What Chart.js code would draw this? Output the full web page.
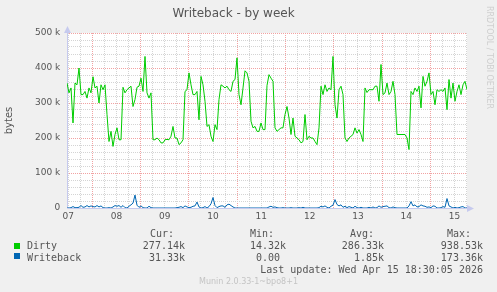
<!DOCTYPE html>
<html>
<head>
<meta charset="utf-8">
<title>Writeback - by week</title>
<script src="https://cdn.jsdelivr.net/npm/chart.js@4/dist/chart.umd.min.js"></script>
<style>
  html, body { margin: 0; padding: 0; background: #f0f0f0; }
  #wrap { position: relative; width: 497px; height: 292px; overflow: hidden; background: #f0f0f0; }
  #c { position: absolute; left: 0; top: 0; }
  .m { position: absolute; font: 10px "DejaVu Sans Mono", monospace; line-height: 10px; color: #555; white-space: pre; }
  .r { text-align: right; }
  .sq { position: absolute; width: 6px; height: 6px; left: 14px; }
  #ver { position: absolute; left: 0; width: 497px; top: 277.5px; text-align: center; font: 8px "DejaVu Sans", sans-serif; line-height: 8px; color: #c4c4c4; }
  #rrd { position: absolute; left: 493px; top: 6px; transform-origin: 0 0; transform: rotate(90deg); font: 8px "DejaVu Sans", sans-serif; line-height: 8px; color: #cfcfcf; white-space: pre; }
</style>
</head>
<body>
<div id="wrap">
  <canvas id="c" width="497" height="292"></canvas>
  <div id="rrd">RRDTOOL / TOBI OETIKER</div>

  <div class="m" style="left:150px;top:229px">Cur:</div>
  <div class="m" style="left:250px;top:229px">Min:</div>
  <div class="m" style="left:350px;top:229px">Avg:</div>
  <div class="m" style="left:447px;top:229px">Max:</div>

  <div class="sq" style="top:243px;background:#00cc00"></div>
  <div class="m" style="left:27px;top:241px">Dirty</div>
  <div class="m r" style="right:312px;top:241px">277.14k</div>
  <div class="m" style="left:250px;top:241px">14.32k</div>
  <div class="m r" style="right:113px;top:241px">286.33k</div>
  <div class="m r" style="right:14px;top:241px">938.53k</div>

  <div class="sq" style="top:253px;background:#0066b3"></div>
  <div class="m" style="left:27px;top:252.5px">Writeback</div>
  <div class="m r" style="right:312px;top:252.5px">31.33k</div>
  <div class="m" style="left:256px;top:252.5px">0.00</div>
  <div class="m r" style="right:113px;top:252.5px">1.85k</div>
  <div class="m r" style="right:14px;top:252.5px">173.36k</div>

  <div class="m r" style="right:14px;top:264.5px">Last update: Wed Apr 15 18:30:05 2026</div>
  <div id="ver">Munin 2.0.33-1~bpo8+1</div>
</div>
<script>
// hours counted from midnight of Apr 07; one sample every ~1 h (2 px)
const startHour = 11.43;
const stepHour = 0.9938;
const dayLabels = ["07", "08", "09", "10", "11", "12", "13", "14", "15"];

// values in k (1000 bytes)
const dirtyK = [
  357, 329, 343, 243, 357, 352, 400, 324, 324, 333, 314, 343, 329, 375, 343, 348, 300,
  352, 338, 352, 267, 190, 219, 176, 210, 229, 195, 195, 345, 329, 338, 343, 348, 290,
  310, 345, 348, 371, 333, 433, 329, 314, 329, 195, 195, 200, 195, 186, 186, 195, 196,
  195, 205, 233, 200, 200, 181, 186, 195, 333, 338, 386, 352, 324, 324, 333, 252, 376,
  352, 305, 233, 238, 205, 190, 238, 224, 310, 352, 348, 343, 348, 338, 333, 362, 367,
  429, 324, 295, 343, 392, 386, 362, 248, 229, 233, 219, 219, 243, 224, 224, 350,
  381, 371, 362, 229, 219, 224, 229, 229, 267, 290, 257, 210, 257, 205, 200, 195, 186,
  190, 267, 195, 205, 200, 200, 190, 181, 229, 348, 324, 352, 333, 343, 338, 433, 295,
  257, 338, 348, 324, 200, 190, 200, 205, 210, 229, 214, 224, 210, 190, 343, 330,
  338, 338, 338, 348, 348, 305, 410, 324, 329, 357, 324, 333, 362, 324, 210, 210, 210,
  210, 210, 200, 167, 333, 324, 343, 333, 348, 286, 376, 348, 362, 386, 324, 333, 295,
  338, 333, 338, 333, 343, 281, 367, 314, 357, 305, 333, 352, 324, 352, 362, 338,
];

const writebackK = [
  0, 0, 1, 4, 1, 1, 2, 7, 2, 3, 7, 3, 6, 4, 3, 7, 3, 6, 1, 0,
  0, 1, 0, 3, 7, 5, 7, 2, 7, 1, 0, 5, 9, 14, 37, 8, 2, 6, 1, 0,
  0, 5, 1, 0, 0, 0, 0, 0, 0, 0, 0, 0, 0, 0, 0, 1, 2, 4, 1, 6,
  3, 1, 2, 5, 6, 17, 3, 0, 1, 4, 0, 4, 12, 30, 7, 1, 4, 6, 6, 2,
  9, 11, 7, 3, 0, 0, 0, 0, 0, 0, 0, 0, 0, 0, 0, 0, 0, 0, 0, 0,
  0, 3, 5, 2, 3, 1, 0, 0, 1, 0, 0, 0, 1, 0, 0, 0, 1, 0, 2, 0,
  0, 0, 0, 0, 0, 0, 1, 5, 3, 6, 2, 0, 5, 8, 24, 10, 6, 9, 2, 5,
  1, 4, 2, 0, 5, 1, 0, 2, 0, 0, 0, 2, 0, 3, 0, 1, 6, 2, 4, 5,
  6, 1, 0, 3, 1, 0, 0, 0, 0, 0, 0, 6, 18, 6, 9, 3, 4, 9, 6, 5,
  2, 3, 1, 6, 5, 0, 0, 1, 4, 2, 27, 6, 3, 0, 2, 0, 1, 3, 4, 0,
  0,
];

const yMax = 500000;
const yStep = 20000;
const yLabelStep = 100000;

const textColor = "#555555";
const minorGrid = "#d4d4d4";
const majorGrid = "#f2a2a2";
const axisColor = "#c6caee";

const toPoints = (vals) =>
  vals.map((v, i) => ({ x: startHour + i * stepHour, y: v * 1000 }));

const xMin = startHour;
const xMax = startHour + (dirtyK.length - 1) * stepHour;

const plotFrame = {
  id: "plotFrame",
  beforeDraw(chart) {
    const { ctx, chartArea: a } = chart;
    ctx.save();
    ctx.fillStyle = "#ffffff";
    ctx.fillRect(a.left, a.top, a.right - a.left, a.bottom - a.top);
    ctx.restore();
  },
  beforeDatasetsDraw(chart) {
    const { ctx, chartArea: a } = chart;
    const x0 = a.left + 0.5;
    const y0 = a.bottom + 0.5;
    ctx.save();
    ctx.strokeStyle = axisColor;
    ctx.fillStyle = axisColor;
    ctx.lineWidth = 1;
    ctx.beginPath();
    ctx.moveTo(x0, y0);
    ctx.lineTo(x0, a.top - 1);
    ctx.moveTo(x0, y0);
    ctx.lineTo(a.right + 1, y0);
    ctx.stroke();
    // arrow heads
    ctx.beginPath();
    ctx.moveTo(x0, a.top - 7);
    ctx.lineTo(x0 - 3.5, a.top);
    ctx.lineTo(x0 + 3.5, a.top);
    ctx.closePath();
    ctx.fill();
    ctx.beginPath();
    ctx.moveTo(a.right + 7, y0);
    ctx.lineTo(a.right, y0 - 3.5);
    ctx.lineTo(a.right, y0 + 3.5);
    ctx.closePath();
    ctx.fill();
    ctx.restore();
  },
};

new Chart(document.getElementById("c"), {
  type: "line",
  data: {
    datasets: [
      {
        label: "Writeback",
        data: toPoints(writebackK),
        borderColor: "#0066b3",
        borderWidth: 1,
        pointRadius: 0,
        tension: 0,
      },
      {
        label: "Dirty",
        data: toPoints(dirtyK),
        borderColor: "#00cc00",
        borderWidth: 1,
        pointRadius: 0,
        tension: 0,
      },
    ],
  },
  options: {
    responsive: false,
    animation: false,
    devicePixelRatio: 1,
    layout: { padding: { left: 0, right: 30, top: 0, bottom: 0 } },
    plugins: {
      legend: { display: false },
      tooltip: { enabled: false },
      title: {
        display: true,
        text: "Writeback - by week",
        color: textColor,
        font: { family: "'DejaVu Sans'", size: 12, weight: "normal" },
        padding: { top: 6.7, bottom: 11.9 },
      },
    },
    scales: {
      x: {
        type: "linear",
        min: xMin,
        max: xMax,
        afterBuildTicks(scale) {
          const ticks = [];
          for (let h = Math.ceil(xMin / 6) * 6; h <= xMax; h += 6) ticks.push({ value: h });
          scale.ticks = ticks;
        },
        afterFit(scale) {
          scale.height = 84;
        },
        ticks: {
          autoSkip: false,
          maxRotation: 0,
          padding: 3.3,
          color: textColor,
          font: { family: "'DejaVu Sans'", size: 9 },
          callback: (v) => (v % 24 === 12 ? dayLabels[(v - 12) / 24] : ""),
        },
        grid: {
          drawTicks: false,
          color: (c) => (c.tick.value % 24 === 0 ? majorGrid : minorGrid),
        },
        border: { display: false, dash: [1, 1] },
      },
      y: {
        min: 0,
        max: yMax,
        afterBuildTicks(scale) {
          const ticks = [];
          for (let v = 0; v <= yMax; v += yStep) ticks.push({ value: v });
          scale.ticks = ticks;
        },
        afterFit(scale) {
          scale.width = 67;
        },
        ticks: {
          autoSkip: false,
          padding: 6.7,
          color: textColor,
          font: { family: "'DejaVu Sans'", size: 9 },
          callback: (v) => {
            if (v % yLabelStep !== 0) return "";
            return v === 0 ? "0" : v / 1000 + " k";
          },
        },
        grid: {
          drawTicks: false,
          color: (c) => {
            const v = c.tick.value;
            if (v === 0) return "rgba(0,0,0,0)";
            return v % yLabelStep === 0 ? majorGrid : minorGrid;
          },
        },
        border: { display: false, dash: [1, 1] },
        title: {
          display: true,
          text: "bytes",
          color: textColor,
          font: { family: "'DejaVu Sans'", size: 10 },
          padding: { top: 3.6, bottom: 0 },
        },
      },
    },
  },
  plugins: [plotFrame],
});
</script>
</body>
</html>
